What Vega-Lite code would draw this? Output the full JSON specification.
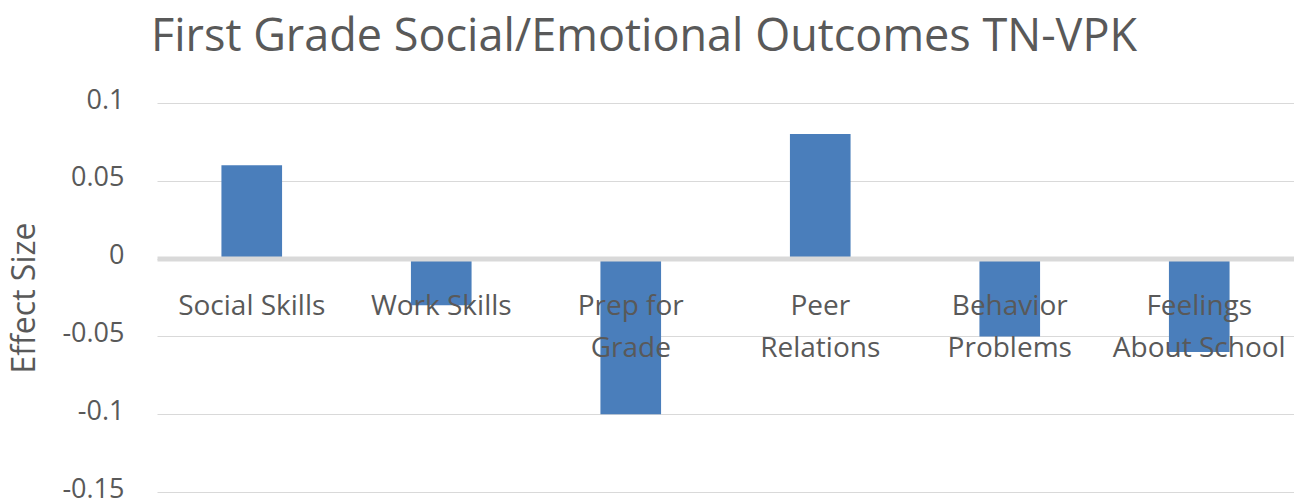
{
  "$schema": "https://vega.github.io/schema/vega-lite/v6.json",
  "autosize": {"type": "none"},
  "padding": {"left": 157, "top": 103, "right": 0, "bottom": 12},
  "width": 1137,
  "height": 389,
  "background": "white",
  "config": {
    "view": {"stroke": null},
    "font": "Open Sans"
  },
  "title": {
    "text": "First Grade Social/Emotional Outcomes TN-VPK",
    "anchor": "start",
    "frame": "group",
    "font": "Open Sans",
    "fontSize": 45,
    "fontWeight": "normal",
    "color": "#595959",
    "dx": -6,
    "offset": 26
  },
  "data": {
    "values": [
      {"outcome": "Social Skills", "effect": 0.06},
      {"outcome": "Work Skills", "effect": -0.03},
      {"outcome": "Prep for Grade", "effect": -0.1},
      {"outcome": "Peer Relations", "effect": 0.08},
      {"outcome": "Behavior Problems", "effect": -0.05},
      {"outcome": "Feelings About School", "effect": -0.06}
    ]
  },
  "mark": {"type": "bar", "color": "#4a7ebb"},
  "encoding": {
    "x": {
      "field": "outcome",
      "type": "nominal",
      "sort": null,
      "scale": {"paddingInner": 0.68, "paddingOuter": 0.34},
      "axis": {
        "title": null,
        "orient": "bottom",
        "offset": -233.4,
        "zindex": 1,
        "labelAngle": 0,
        "ticks": false,
        "grid": false,
        "domainColor": "#d9d9d9",
        "domainWidth": 5,
        "labelFont": "Open Sans",
        "labelFontSize": 28,
        "labelColor": "#595959",
        "labelPadding": 34,
        "labelLineHeight": 42,
        "labelBaseline": "top",
        "labelOverlap": false,
        "labelLimit": 0,
        "labelExpr": "datum.value == 'Prep for Grade' ? ['Prep for','Grade'] : datum.value == 'Peer Relations' ? ['Peer','Relations'] : datum.value == 'Behavior Problems' ? ['Behavior','Problems'] : datum.value == 'Feelings About School' ? ['Feelings','About School'] : datum.value"
      }
    },
    "y": {
      "field": "effect",
      "type": "quantitative",
      "scale": {"domain": [-0.15, 0.1], "nice": false, "zero": false},
      "axis": {
        "title": "Effect Size",
        "titleFont": "Open Sans",
        "titleFontSize": 32,
        "titleFontWeight": "normal",
        "titleColor": "#595959",
        "titleX": -116,
        "values": [-0.15, -0.1, -0.05, 0, 0.05, 0.1],
        "labelExpr": "'' + datum.value",
        "labelFont": "Open Sans",
        "labelFontSize": 27,
        "labelColor": "#595959",
        "labelPadding": 33,
        "labelOffset": -3,
        "ticks": false,
        "domain": false,
        "gridColor": "#d9d9d9",
        "gridWidth": 1
      }
    }
  }
}
